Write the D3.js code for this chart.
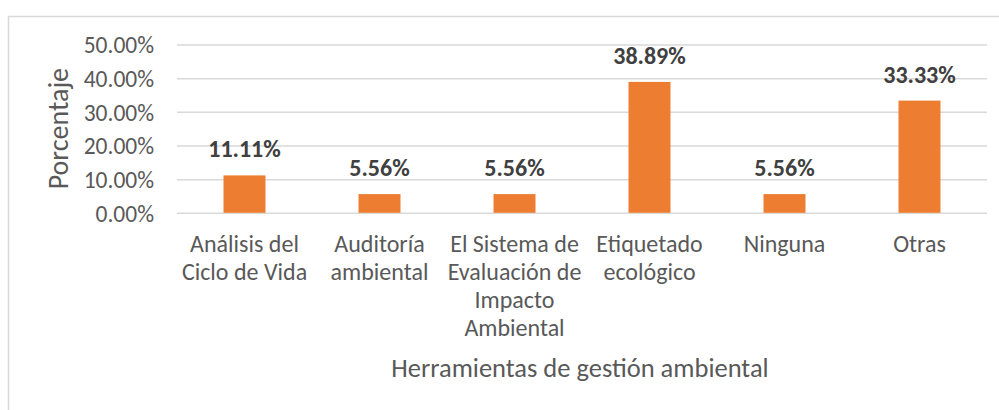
<!DOCTYPE html>
<html>
<head>
<meta charset="utf-8">
<script src="https://cdn.jsdelivr.net/npm/d3@7/dist/d3.min.js"></script>
<style>
  html, body { margin: 0; padding: 0; background: #ffffff; }
  svg { display: block; }
  text { font-family: Carlito, Calibri, Lato, "Open Sans", sans-serif; }
</style>
</head>
<body>
<svg id="chart" width="999" height="410"></svg>
<script>
// ---- data ----
const categories = [
  "Análisis del\nCiclo de Vida",
  "Auditoría\nambiental",
  "El Sistema de\nEvaluación de\nImpacto\nAmbiental",
  "Etiquetado\necológico",
  "Ninguna",
  "Otras"
];
const values = [11.11, 5.56, 5.56, 38.89, 5.56, 33.33];
const yTicks = [0, 10, 20, 30, 40, 50];
const yTickLabels = ["0.00%", "10.00%", "20.00%", "30.00%", "40.00%", "50.00%"];
const xTitle = "Herramientas de gestión ambiental";
const yTitle = "Porcentaje";

// ---- layout ----
const plot = { left: 177, right: 987, top: 44.5, bottom: 212.8 };
const barColor = "#ED7D31";
const gridColor = "#D9D9D9";
const textColor = "#595959";
const labelColor = "#404040";
const fontStack = "Carlito, Calibri, Lato, 'Open Sans', sans-serif";

const svg = d3.select("#chart");

// outer chart border
svg.append("rect")
  .attr("x", 8.5).attr("y", 16.5)
  .attr("width", 1100).attr("height", 500)
  .attr("fill", "none")
  .attr("stroke", gridColor)
  .attr("stroke-width", 1.5);

const x = d3.scaleBand()
  .domain(categories)
  .range([plot.left, plot.right])
  .paddingInner(0.689)
  .paddingOuter(0.3445);

const y = d3.scaleLinear()
  .domain([0, 50])
  .range([plot.bottom, plot.top]);

// gridlines + y tick labels via axis
const yAxis = d3.axisLeft(y)
  .tickValues(yTicks)
  .tickFormat((d, i) => yTickLabels[i])
  .tickSize(-(plot.right - plot.left))
  .tickPadding(23);

const gy = svg.append("g")
  .attr("transform", `translate(${plot.left},0)`)
  .call(yAxis);
gy.select(".domain").remove();
gy.selectAll(".tick line")
  .attr("stroke", gridColor)
  .attr("stroke-width", 1.5);
gy.selectAll(".tick text")
  .attr("fill", textColor)
  .attr("font-size", 23.5)
  .attr("dy", "0.35em")
  .style("font-family", fontStack);

// bars
svg.append("g").selectAll("rect")
  .data(values)
  .join("rect")
  .attr("x", (d, i) => x(categories[i]))
  .attr("y", d => y(d))
  .attr("width", x.bandwidth())
  .attr("height", d => y(0) - y(d))
  .attr("fill", barColor);

// data labels
svg.append("g").selectAll("text")
  .data(values)
  .join("text")
  .attr("x", (d, i) => x(categories[i]) + x.bandwidth() / 2)
  .attr("y", d => y(d) - 18)
  .attr("text-anchor", "middle")
  .attr("font-size", 24)
  .attr("font-weight", "bold")
  .attr("fill", labelColor)
  .text(d => d.toFixed(2) + "%");

// x category labels via axis
const xAxis = d3.axisBottom(x).tickSize(0).tickFormat(() => "");
const gx = svg.append("g")
  .attr("transform", `translate(0,${plot.bottom})`)
  .call(xAxis);
gx.select(".domain").remove();
gx.selectAll(".tick").each(function(d) {
  const lines = d.split("\n");
  const t = d3.select(this).select("text")
    .attr("fill", textColor)
    .attr("font-size", 24)
    .attr("text-anchor", "middle")
    .attr("dy", null)
    .attr("y", 0)
    .style("font-family", fontStack);
  lines.forEach((ln, k) => {
    t.append("tspan")
      .attr("x", 0)
      .attr("y", 39.5 + k * 27.9)
      .text(ln);
  });
});

// x title
svg.append("text")
  .attr("x", (plot.left + plot.right) / 2 - 2)
  .attr("y", 377.3)
  .attr("text-anchor", "middle")
  .attr("font-size", 26.5)
  .attr("fill", textColor)
  .text(xTitle);

// y title
svg.append("text")
  .attr("transform", `translate(68,${(plot.top + plot.bottom) / 2}) rotate(-90)`)
  .attr("text-anchor", "middle")
  .attr("font-size", 28)
  .attr("fill", textColor)
  .text(yTitle);
</script>
</body>
</html>
